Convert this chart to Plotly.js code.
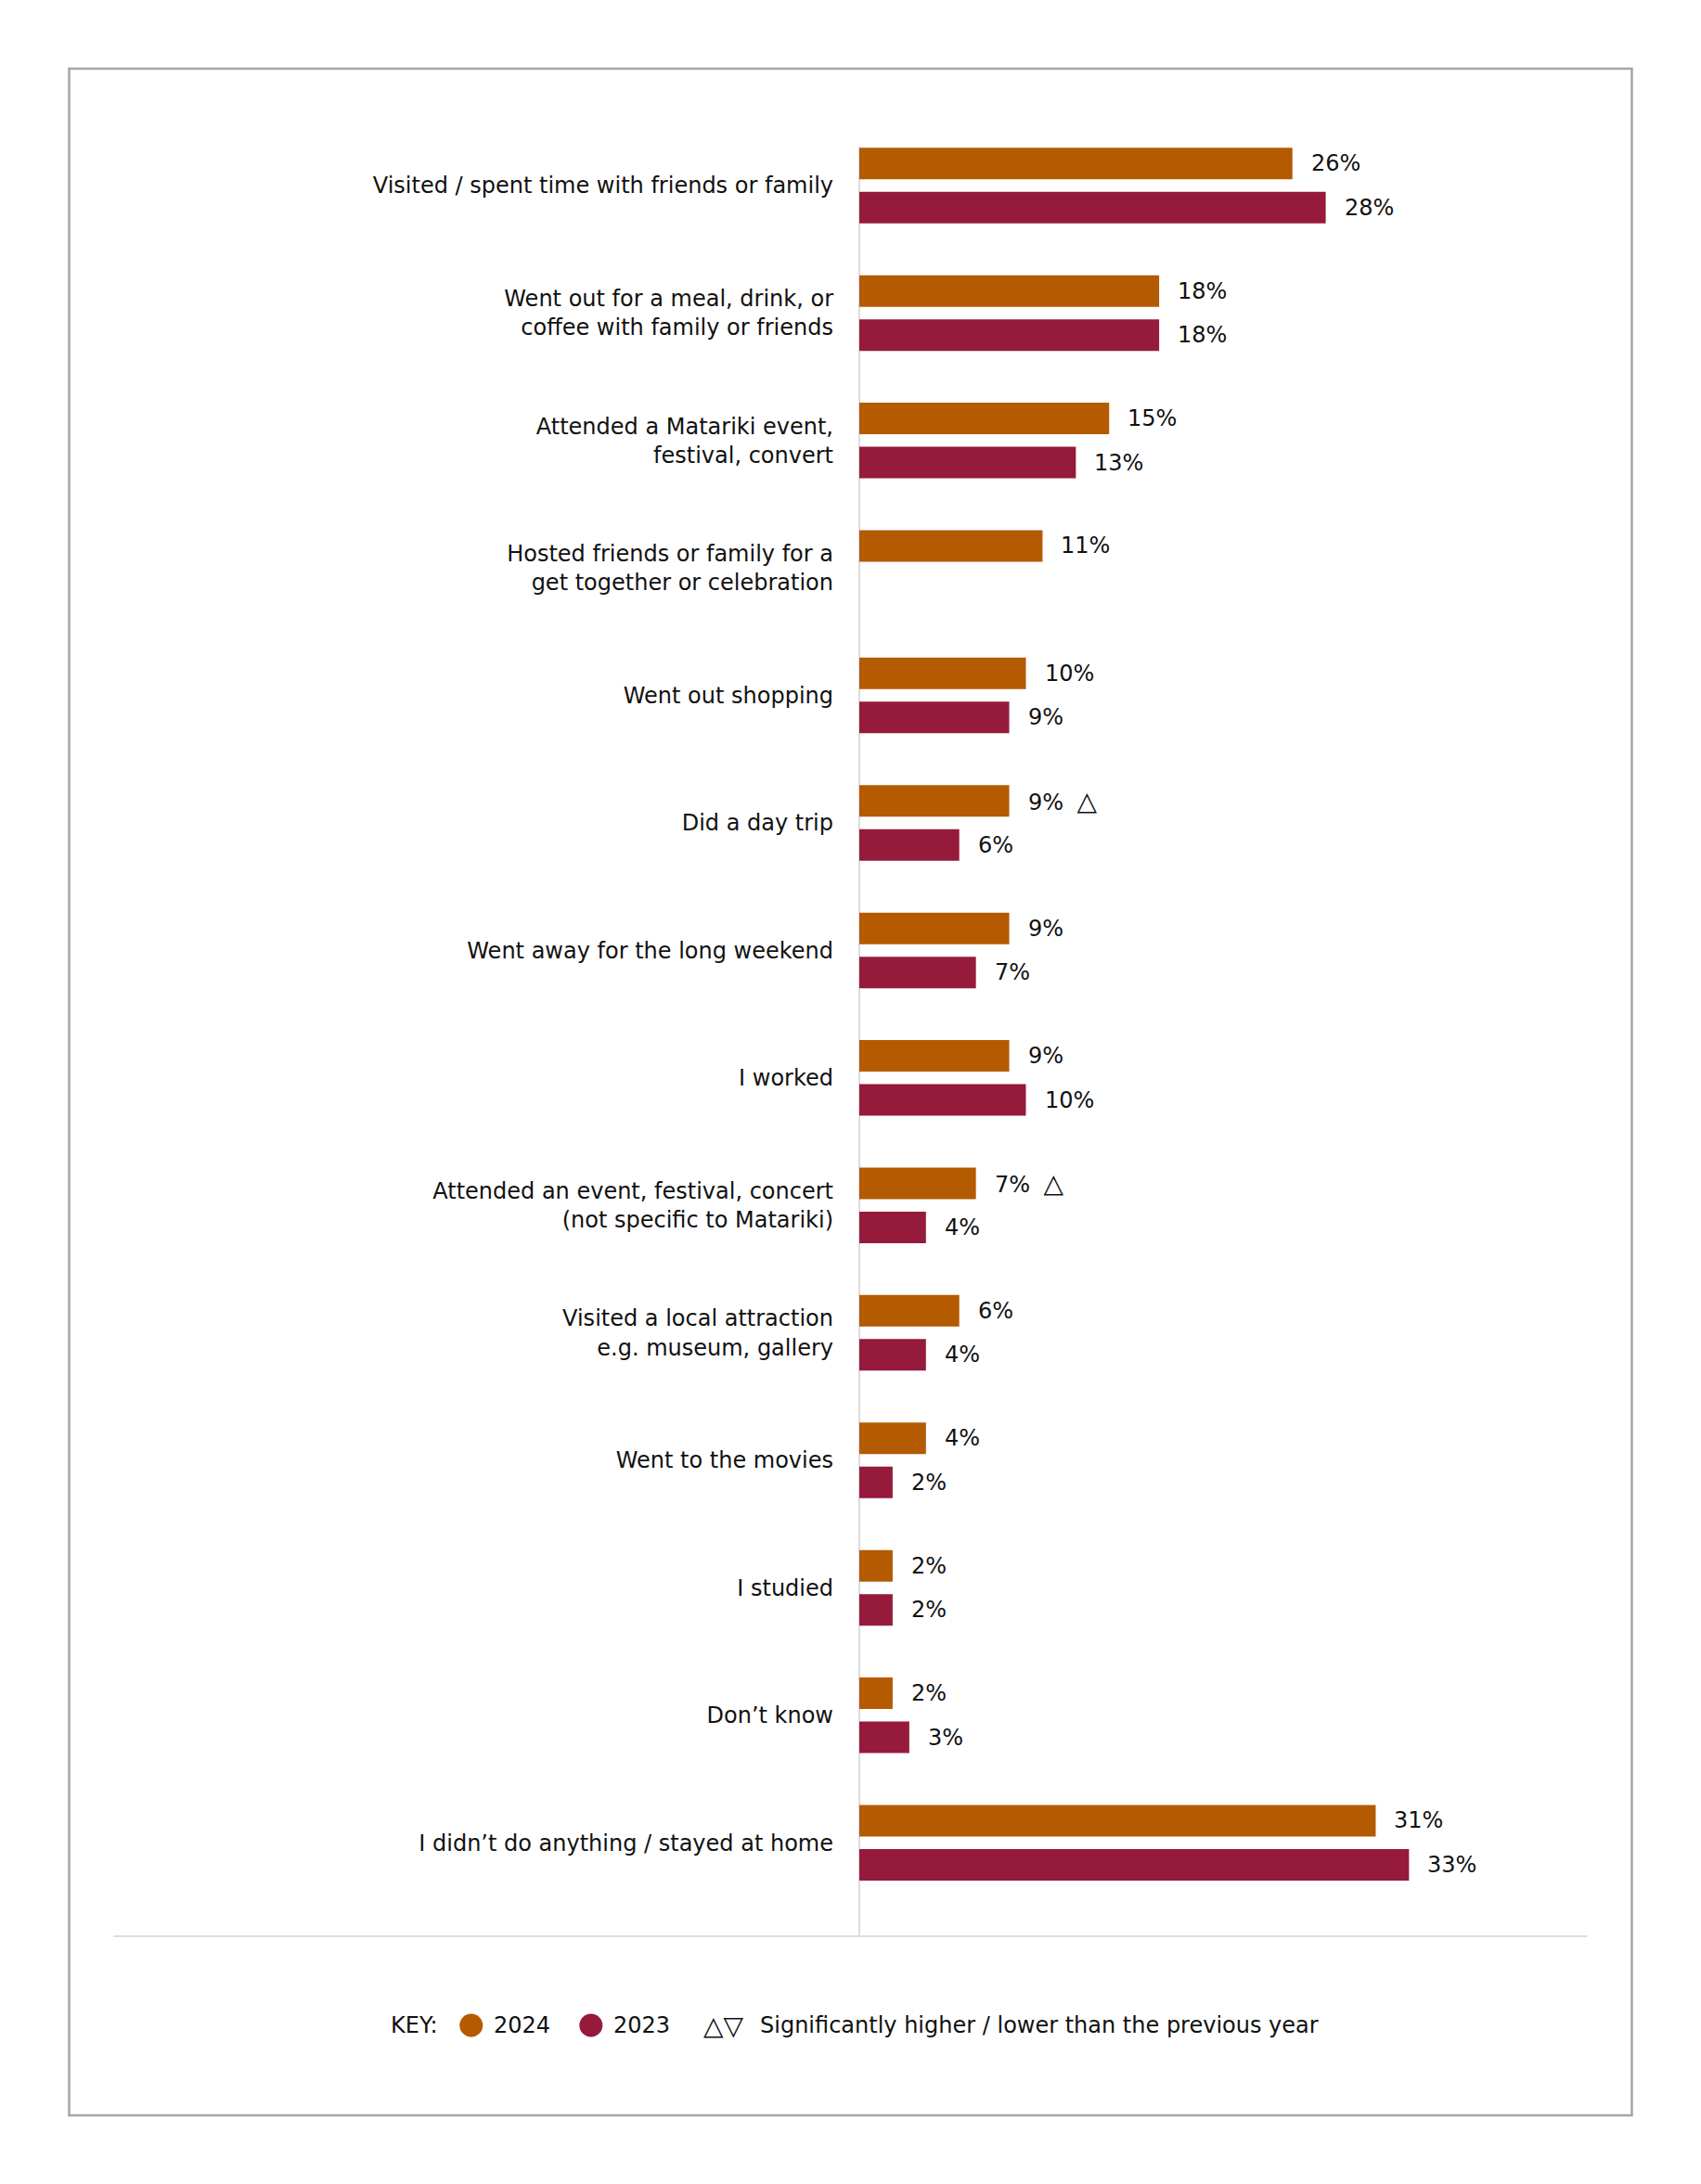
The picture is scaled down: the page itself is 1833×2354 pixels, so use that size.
<!DOCTYPE html>
<html>
<head>
<meta charset="utf-8">
<script src="https://cdn.plot.ly/plotly-3.0.1.min.js"></script>
<style>
  html, body { margin: 0; padding: 0; background: #ffffff; }
  #chart { width: 1833px; height: 2354px; }
</style>
</head>
<body>
<div id="chart"></div>
<script>
// Matariki long weekend activities, 2024 vs 2023
const categories = [
  "Visited / spent time with friends or family",
  "Went out for a meal, drink, or<br>coffee with family or friends",
  "Attended a Matariki event,<br>festival, convert",
  "Hosted friends or family for a<br>get together or celebration",
  "Went out shopping",
  "Did a day trip",
  "Went away for the long weekend",
  "I worked",
  "Attended an event, festival, concert<br>(not specific to Matariki)",
  "Visited a local attraction<br>e.g. museum, gallery",
  "Went to the movies",
  "I studied",
  "Don’t know",
  "I didn’t do anything / stayed at home"
];
const values2024 = [26, 18, 15, 11, 10, 9, 9, 9, 7, 6, 4, 2, 2, 31];
const values2023 = [28, 18, 13, null, 9, 6, 7, 10, 4, 4, 2, 2, 3, 33];
// "up" = significantly higher than the previous year, "down" = significantly lower
const change2024 = ["", "", "", "", "", "up", "", "", "up", "", "", "", "", ""];

const seriesNames = ["2024", "2023"];
const colors = { "2024": "#b45a00", "2023": "#951a3b" };
const keyText = "Significantly higher / lower than the previous year";

const FONT = "'DejaVu Sans', sans-serif";
const FS = 24;
const INK = "#111111";

// plot-area geometry (pixels)
const W = 1833, H = 2354;
const L = 926, T = 158, B = 2087;
const PXPCT = 17.94;               // pixels per percentage point
const XMAX = 40;
const plotW = XMAX * PXPCT;
const R = W - L - plotW;
const plotH = B - T;
const CAT = 137.4;                 // pixels per category
const firstCenter = 200 - T;       // first group centre below plot top
const yTop = -firstCenter / CAT;
const yBot = yTop + plotH / CAT;

const px = x => (x - L) / plotW;       // pixel -> paper x
const py = y => (B - y) / plotH;       // pixel -> paper y

const idx = categories.map((_, i) => i);

const traces = [
  {
    type: "bar", orientation: "h", name: seriesNames[0],
    y: idx, x: values2024,
    marker: { color: colors["2024"], line: { width: 0 } },
    hoverinfo: "skip"
  },
  {
    type: "bar", orientation: "h", name: seriesNames[1],
    y: idx, x: values2023,
    marker: { color: colors["2023"], line: { width: 0 } },
    hoverinfo: "skip"
  }
];

const SLOT = 47.5;  // distance between bar centres in one group
const annotations = [];
const tri = s => s === "up" ? "△" : (s === "down" ? "▽" : "");

idx.forEach(i => {
  if (values2024[i] != null) {
    const mark = tri(change2024[i]);
    annotations.push({
      x: values2024[i], y: i, xref: "x", yref: "y",
      xanchor: "left", yanchor: "middle", xshift: 18, yshift: SLOT / 2,
      showarrow: false,
      text: values2024[i] + "%" + (mark ? "<span style='font-size:28px'>&nbsp;\u2009" + mark + "</span>" : ""),
      font: { family: FONT, size: FS, color: INK }
    });
  }
  if (values2023[i] != null) {
    annotations.push({
      x: values2023[i], y: i, xref: "x", yref: "y",
      xanchor: "left", yanchor: "middle", xshift: 18, yshift: -SLOT / 2,
      showarrow: false,
      text: values2023[i] + "%",
      font: { family: FONT, size: FS, color: INK }
    });
  }
});

// key row
const keyY = py(2183);
annotations.push(
  { x: px(419), y: keyY, xref: "paper", yref: "paper", xanchor: "left", yanchor: "middle",
    showarrow: false, text: "KEY:", font: { family: FONT, size: FS, color: INK } },
  { x: px(530), y: keyY, xref: "paper", yref: "paper", xanchor: "left", yanchor: "middle",
    showarrow: false, text: seriesNames[0], font: { family: FONT, size: FS, color: INK } },
  { x: px(659), y: keyY, xref: "paper", yref: "paper", xanchor: "left", yanchor: "middle",
    showarrow: false, text: seriesNames[1], font: { family: FONT, size: FS, color: INK } },
  { x: px(756), y: keyY, xref: "paper", yref: "paper", xanchor: "left", yanchor: "middle",
    showarrow: false, text: "△▽", font: { family: FONT, size: 28, color: INK } },
  { x: px(817), y: keyY, xref: "paper", yref: "paper", xanchor: "left", yanchor: "middle",
    showarrow: false, text: keyText, font: { family: FONT, size: FS, color: INK } }
);

const circle = (cx, color) => ({
  type: "circle", xref: "paper", yref: "paper",
  x0: px(cx - 12.5), x1: px(cx + 12.5), y0: py(2183 + 12.5), y1: py(2183 - 12.5),
  fillcolor: color, line: { width: 0 }
});

const shapes = [
  // outer frame
  { type: "rect", xref: "paper", yref: "paper", layer: "below",
    x0: px(75), x1: px(1758), y0: py(2280), y1: py(74),
    line: { color: "#a8a4a5", width: 2.5 }, fillcolor: "rgba(0,0,0,0)" },
  // baseline separator
  { type: "line", xref: "paper", yref: "paper", layer: "below",
    x0: px(123), x1: px(1710), y0: 0, y1: 0,
    line: { color: "#dcdcdc", width: 2 } },
  // zero axis line
  { type: "line", xref: "paper", yref: "paper", layer: "below",
    x0: 0, x1: 0, y0: 0, y1: 1,
    line: { color: "#dcdcdc", width: 2 } },
  circle(508, colors["2024"]),
  circle(637, colors["2023"])
];

const layout = {
  width: W, height: H,
  margin: { l: L, r: R, t: T, b: H - B, pad: 0 },
  paper_bgcolor: "#ffffff", plot_bgcolor: "#ffffff",
  showlegend: false,
  barmode: "group",
  bargap: 1 - (2 * SLOT) / CAT,
  bargroupgap: 1 - 34 / SLOT,
  xaxis: {
    range: [0, XMAX], showgrid: false, zeroline: false, showline: false,
    showticklabels: false, ticks: "", fixedrange: true
  },
  yaxis: {
    type: "linear", range: [yBot, yTop],
    tickmode: "array", tickvals: idx, ticktext: categories,
    showgrid: false, zeroline: false, showline: false, ticks: "",
    ticklabelstandoff: 27,
    tickfont: { family: FONT, size: FS, color: INK },
    fixedrange: true
  },
  font: { family: FONT, size: FS, color: INK },
  annotations: annotations,
  shapes: shapes
};

Plotly.newPlot("chart", traces, layout, { displayModeBar: false, staticPlot: true });
</script>
</body>
</html>
